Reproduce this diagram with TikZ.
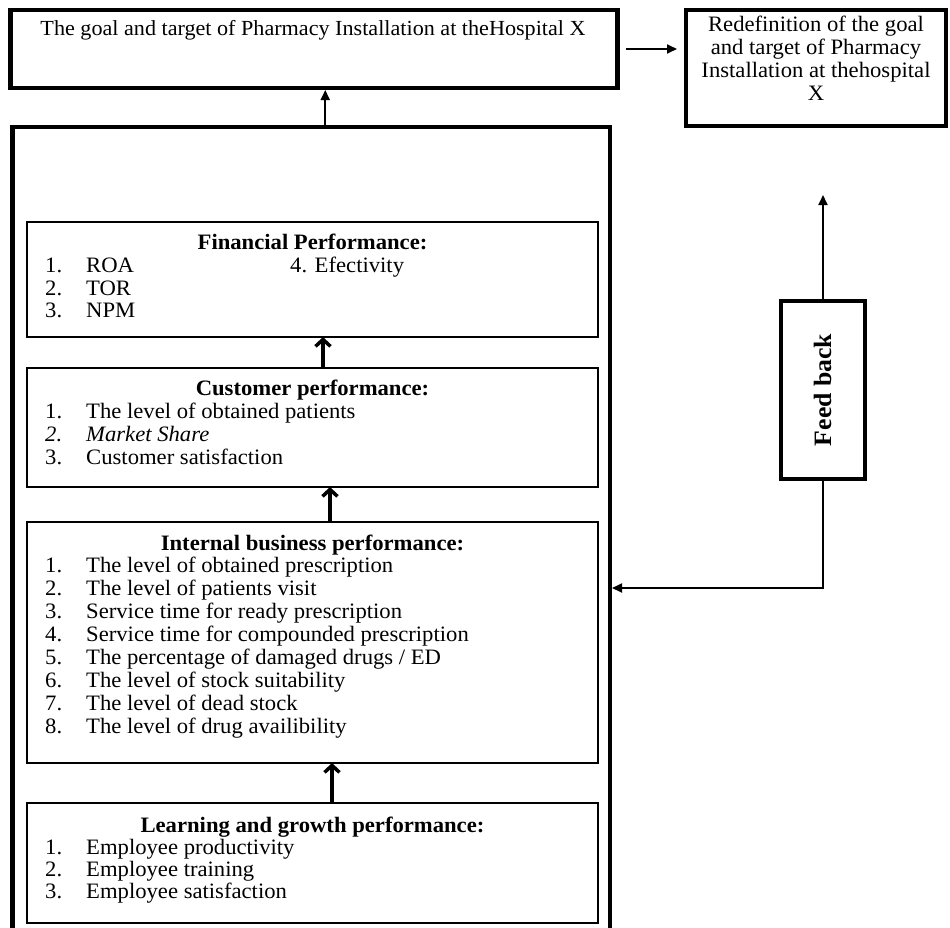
\documentclass[tikz,border=0pt]{standalone}
\usepackage{fontspec}
\setmainfont{Liberation Serif}[FakeStretch=1.03]
\usetikzlibrary{arrows.meta}
\tikzset{
  thickbox/.style={draw, line width=4.5pt, inner sep=0pt, outer sep=0pt},
  thinbox/.style={draw, line width=1.3pt, inner sep=0pt, outer sep=0pt, minimum width=571pt},
  txt/.style={anchor=base west, inner sep=0pt, font=\fontsize{22}{23}\selectfont},
  ttl/.style={anchor=base, inner sep=0pt, font=\fontsize{22}{23}\selectfont\bfseries},
  conn/.style={line width=1.8pt, -{Triangle[length=10pt,width=9pt]}},
  bigarrow/.style={line width=4pt, -{Straight Barb[length=7pt,width=15pt,line width=3.5pt]}},
}
\begin{document}
\begin{tikzpicture}[x=1pt,y=-1pt]
\useasboundingbox (0,0) rectangle (950,927);
\clip (0,0) rectangle (950,927);

% top boxes
\node[thickbox, minimum width=607pt, minimum height=78pt] (goal) at (314,49) {};
\node[txt, anchor=base, font=\fontsize{21.5}{23}\selectfont] (goaltxt) at (313,35) {The goal and target of Pharmacy Installation at theHospital X};
\node[thickbox, minimum width=260pt, minimum height=116pt] (redef) at (816,68) {};
\node[anchor=north, inner sep=0pt, align=center, font=\fontsize{22}{23}\selectfont] (redeftxt) at (816,16)
  {Redefinition of the goal\\and target of Pharmacy\\Installation at thehospital\\X};

% main box
\node[thickbox, minimum width=597.5pt, minimum height=833pt] (main) at (311.25,543.5) {};

% inner boxes
\node[thinbox, minimum height=115pt] (fin) at (312.5,279.5) {};
\node[thinbox, minimum height=119pt] (cust) at (312.5,427.5) {};
\node[thinbox, minimum height=241pt] (intl) at (312.5,642.5) {};
\node[thinbox, minimum height=120pt] (learn) at (312.5,863) {};

% financial
\node[ttl] (fint) at (312.5,249) {Financial Performance:};
\node[txt] (f1n) at (45,272) {1.};
\node[txt] (f1) at (86,272) {ROA};
\node[txt] (f2n) at (45,295) {2.};
\node[txt] (f2) at (86,295) {TOR};
\node[txt] (f3n) at (45,317) {3.};
\node[txt] (f3) at (86,317) {NPM};
\node[txt] (f4) at (290,272) {4. Efectivity};

% customer
\node[ttl] (cust t) at (312.5,395) {Customer performance:};
\node[txt] (c1n) at (45,418) {1.};
\node[txt] (c1) at (86,418) {The level of obtained patients};
\node[txt] (c2n) at (45,441) {\itshape 2.};
\node[txt] (c2) at (86,441) {\itshape Market Share};
\node[txt] (c3n) at (45,464) {3.};
\node[txt] (c3) at (86,464) {Customer satisfaction};

% internal
\node[ttl] (intt) at (312.5,550) {Internal business performance:};
\node[txt] (i1n) at (45,572) {1.};
\node[txt] (i1) at (86,572) {The level of obtained prescription};
\node[txt] (i2n) at (45,595) {2.};
\node[txt] (i2) at (86,595) {The level of patients visit};
\node[txt] (i3n) at (45,618) {3.};
\node[txt] (i3) at (86,618) {Service time for ready prescription};
\node[txt] (i4n) at (45,641) {4.};
\node[txt] (i4) at (86,641) {Service time for compounded prescription};
\node[txt] (i5n) at (45,664) {5.};
\node[txt] (i5) at (86,664) {The percentage of damaged drugs / ED};
\node[txt] (i6n) at (45,687) {6.};
\node[txt] (i6) at (86,687) {The level of stock suitability};
\node[txt] (i7n) at (45,710) {7.};
\node[txt] (i7) at (86,710) {The level of dead stock};
\node[txt] (i8n) at (45,733) {8.};
\node[txt] (i8) at (86,733) {The level of drug availibility};

% learning
\node[ttl] (lt) at (312.5,832) {Learning and growth performance:};
\node[txt] (l1n) at (45,854) {1.};
\node[txt] (l1) at (86,854) {Employee productivity};
\node[txt] (l2n) at (45,876) {2.};
\node[txt] (l2) at (86,876) {Employee training};
\node[txt] (l3n) at (45,898) {3.};
\node[txt] (l3) at (86,898) {Employee satisfaction};

% feedback
\node[thickbox, minimum width=84pt, minimum height=178pt] (fb) at (823,390) {};
\node[rotate=90, inner sep=0pt, font=\fontsize{25}{27}\selectfont\bfseries] (fbt) at (fb.center) {Feed back};
\coordinate (fbtip) at (823,195);
\coordinate (fbturn) at (823,588);

% connectors
\draw[conn, shorten <=8pt, shorten >=9pt] (goal.east) -- (goal.east -| redef.west);
\draw[conn, shorten <=2pt, shorten >=2pt] ([xshift=14pt]main.north) -- ([xshift=14pt]main.north |- goal.south);
\draw[bigarrow] ([xshift=10.5pt]cust.north) -- ([xshift=10.5pt]cust.north |- fin.south);
\draw[bigarrow] ([xshift=17.5pt]intl.north) -- ([xshift=17.5pt]intl.north |- cust.south);
\draw[bigarrow] ([xshift=19.5pt]learn.north) -- ([xshift=19.5pt]learn.north |- intl.south);
\draw[conn, shorten <=2pt] (fb.north) -- (fbtip);
\draw[conn, shorten <=2pt, shorten >=2pt] (fb.south) -- (fbturn) -- (fbturn -| main.east);
\end{tikzpicture}
\end{document}
